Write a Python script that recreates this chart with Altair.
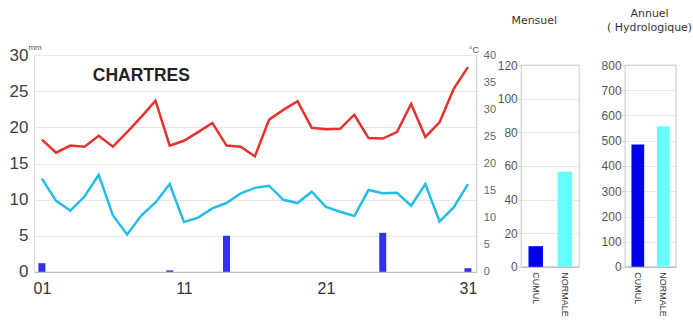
import altair as alt
import pandas as pd

# ---------------- data ----------------
DAYS = list(range(1, 32))
TMAX = [24.4, 22.0, 23.3, 23.1, 25.1, 23.1, 25.8, 28.6, 31.6, 23.3, 24.2, 25.8, 27.5, 23.3, 23.1, 21.3,
        28.1, 29.9, 31.5, 26.6, 26.3, 26.4, 29.0, 24.7, 24.6, 25.8, 31.0, 24.9, 27.6, 33.8, 37.8]
TMIN = [17.2, 13.1, 11.3, 13.9, 17.9, 10.4, 6.9, 10.4, 12.8, 16.2, 9.2, 10.0, 11.7, 12.7, 14.5, 15.5,
        15.9, 13.3, 12.7, 14.8, 12.0, 11.1, 10.3, 15.1, 14.5, 14.6, 12.2, 16.2, 9.3, 11.9, 16.2]
RAIN = [1.2, 0, 0, 0, 0, 0, 0, 0, 0, 0.2, 0, 0, 0, 5.0, 0, 0,
        0, 0, 0, 0, 0, 0, 0, 0, 5.4, 0, 0, 0, 0, 0, 0.5]
X_TICKS = [1, 11, 21, 31]
MM_TICKS = [0, 5, 10, 15, 20, 25, 30]
C_TICKS = [0, 5, 10, 15, 20, 25, 30, 35, 40]

CATS = ["CUMUL", "NORMALE"]
MONTH_VALS = [12.3, 56.5]
MONTH_TICKS = [0, 20, 40, 60, 80, 100, 120]
YEAR_VALS = [485, 558]
YEAR_TICKS = [0, 100, 200, 300, 400, 500, 600, 700, 800]

STATION = "CHARTRES"

FONT = "Liberation Sans"

# ---------------- main chart ----------------
df_rain = pd.DataFrame({"day": DAYS, "rain": RAIN})
df_temp = pd.concat([
    pd.DataFrame({"day": DAYS, "temp": TMAX, "serie": "max"}),
    pd.DataFrame({"day": DAYS, "temp": TMIN, "serie": "min"}),
])
df_label = pd.DataFrame({"day": [8.0], "rain": [26.45], "t": [STATION]})

X_MAIN = alt.X(
    "day:Q",
    scale=alt.Scale(domain=[0.44, 31.59], nice=False, zero=False, padding=0),
    axis=alt.Axis(values=X_TICKS,
                  labelExpr="datum.value < 10 ? '0' + datum.value : '' + datum.value",
                  grid=False, ticks=False, domainColor="#b3b3b3",
                  labelFont=FONT, labelFontSize=16, labelColor="#333333",
                  labelPadding=8.5, title=None),
)

Y_MM = alt.Y(
    "rain:Q",
    scale=alt.Scale(domain=[0, 30], nice=False),
    axis=alt.Axis(orient="left", values=MM_TICKS, grid=True, gridColor="#e6e6e6",
                  ticks=False, domainColor="#dcdcdc",
                  labelFont=FONT, labelFontSize=17, labelColor="#404040", labelPadding=6,
                  title="mm", titleAngle=0, titleFont=FONT, titleFontSize=8,
                  titleFontWeight="normal", titleColor="#555555",
                  titleX=-6, titleY=-6, titleAlign="left", titleBaseline="alphabetic"),
)

bars = alt.Chart(df_rain).mark_bar(size=7, color="#3232ee").encode(x=X_MAIN, y=Y_MM)
label = alt.Chart(df_label).mark_text(
    font=FONT, fontSize=17.5, fontWeight="bold", color="#222222",
    align="center", baseline="alphabetic"
).encode(x=X_MAIN, y=Y_MM, text="t:N")

lines = alt.Chart(df_temp).mark_line(strokeWidth=2.5).encode(
    x=X_MAIN,
    y=alt.Y("temp:Q", scale=alt.Scale(domain=[0, 40], nice=False),
            axis=alt.Axis(orient="right", values=C_TICKS, grid=False, ticks=False,
                          domainColor="#c4c4c4",
                          labelFont=FONT, labelFontSize=11, labelColor="#666666",
                          labelPadding=7,
                          title="°C", titleAngle=0, titleFont=FONT, titleFontSize=9,
                          titleFontWeight="normal", titleColor="#555555",
                          titleX=-8, titleY=-3, titleAlign="left",
                          titleBaseline="alphabetic")),
    color=alt.Color("serie:N", scale=alt.Scale(domain=["max", "min"],
                                               range=["#e8302c", "#22bde9"]),
                    legend=None),
)

main = alt.layer(alt.layer(bars, label), lines).resolve_scale(y="independent").properties(
    width=443, height=217
)


# ---------------- side panels ----------------
def panel(vals, ticks, title, dx, offset, width):
    top = ticks[-1]
    dmax = top * 212 / 202
    df = pd.DataFrame({"cat": CATS, "val": vals})
    df_frame = pd.DataFrame({"val": [0], "val2": [top]})
    y = alt.Y("val:Q", scale=alt.Scale(domain=[0, dmax], nice=False),
              axis=alt.Axis(values=ticks, grid=True, gridColor="#e8e8e8", domain=False,
                            tickSize=3, tickColor="#cccccc",
                            labelFont=FONT, labelFontSize=12, labelColor="#555555",
                            labelPadding=1, title=None))
    b = alt.Chart(df).mark_bar().encode(
        x=alt.X("cat:N", sort=CATS,
                scale=alt.Scale(paddingInner=0.5, paddingOuter=0.25),
                axis=alt.Axis(labelAngle=90, labelFont=FONT, labelFontSize=9,
                              labelColor="#333333", labelPadding=5, ticks=False,
                              domainColor="#b3b3b3", title=None)),
        y=y,
        color=alt.Color("cat:N", scale=alt.Scale(domain=CATS, range=["#0000ee", "#66ffff"]),
                        legend=None),
    )
    frame = alt.Chart(df_frame).mark_rect(fillOpacity=0, stroke="#c8c8c8", strokeWidth=1).encode(
        y=y, y2="val2:Q"
    )
    return alt.layer(frame, b).properties(
        width=width, height=212,
        title=alt.TitleParams(title, font="DejaVu Sans", fontSize=11, fontWeight="normal",
                              color="#333333", anchor="middle", frame="group", dx=dx,
                              offset=offset, lineHeight=14, baseline="bottom"),
    )


mens = panel(MONTH_VALS, MONTH_TICKS, "Mensuel", -16, 18, 58)
ann = panel(YEAR_VALS, YEAR_TICKS, ["Annuel", "( Hydrologique)"], -1, 11, 51)

right = alt.hconcat(mens, ann, spacing=20).resolve_scale(color="independent")

chart = alt.hconcat(main, right, spacing=0).resolve_scale(color="independent").properties(
    padding={"left": 9, "top": 8, "right": 0, "bottom": 0},
    autosize=alt.AutoSizeParams(type="pad"),
    background="white",
).configure_view(strokeWidth=0)

chart.save("out.html", embed_options={"renderer": "svg", "actions": False})
